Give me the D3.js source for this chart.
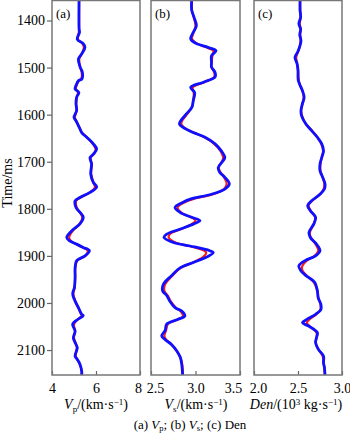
<!DOCTYPE html>
<html>
<head>
<meta charset="utf-8">
<script src="https://cdn.jsdelivr.net/npm/d3@7"></script>
<style>
  body { margin: 0; background: #fff; }
  svg text { font-family: "Liberation Serif", "Times New Roman", serif; fill: #000; }
</style>
</head>
<body>
<svg id="chart"></svg>
<script>
const width = 350;
const height = 439;

// time ticks (ms)
const timeTicks = [1400, 1500, 1600, 1700, 1800, 1900, 2000, 2100];

// (a) Vp, km/s
const vpTime = [1357, 1417, 1425, 1440, 1449, 1457, 1471, 1482, 1499, 1510, 1524, 1528, 1538, 1545, 1553, 1563, 1577, 1591, 1606, 1613, 1627, 1638, 1648, 1662, 1673, 1684, 1691, 1705, 1726, 1744, 1754, 1765, 1776, 1783, 1797, 1818, 1832, 1847, 1861, 1868, 1875, 1882, 1889, 1900, 1910, 1925, 1946, 1967, 1981, 1996, 2010, 2024, 2027, 2034, 2045, 2060, 2074, 2088, 2095, 2113, 2120, 2130, 2145, 2153];
const vpInv = [5.23, 5.23, 5.25, 5.15, 5.42, 5.50, 5.35, 5.20, 5.28, 5.38, 5.36, 5.20, 5.09, 5.05, 5.22, 5.12, 5.09, 5.12, 5.00, 5.09, 5.24, 5.35, 5.58, 5.88, 6.03, 5.88, 5.73, 5.80, 5.76, 5.88, 6.03, 5.73, 5.27, 5.05, 5.09, 5.42, 5.27, 4.89, 4.67, 4.80, 5.12, 5.42, 5.70, 5.50, 5.12, 5.05, 5.05, 5.02, 4.94, 5.05, 5.20, 5.35, 5.42, 5.20, 4.94, 5.05, 4.97, 5.09, 5.15, 5.05, 5.15, 5.27, 5.35, 5.35];
const vpTrue = [5.23, 5.23, 5.22, 5.18, 5.38, 5.45, 5.35, 5.24, 5.28, 5.35, 5.33, 5.22, 5.12, 5.08, 5.18, 5.13, 5.10, 5.12, 5.04, 5.10, 5.24, 5.36, 5.58, 5.85, 5.98, 5.90, 5.76, 5.80, 5.78, 5.88, 5.95, 5.72, 5.30, 5.10, 5.12, 5.38, 5.25, 4.94, 4.78, 4.85, 5.10, 5.38, 5.62, 5.52, 5.15, 5.06, 5.05, 5.03, 4.97, 5.06, 5.20, 5.32, 5.35, 5.20, 5.00, 5.05, 5.00, 5.10, 5.13, 5.08, 5.15, 5.26, 5.35, 5.35];

// (b) Vs, km/s
const vsTime = [1357, 1378, 1393, 1411, 1425, 1439, 1448, 1457, 1464, 1475, 1489, 1499, 1510, 1520, 1531, 1542, 1553, 1570, 1584, 1598, 1613, 1620, 1627, 1638, 1648, 1662, 1677, 1691, 1698, 1712, 1722, 1733, 1747, 1758, 1769, 1779, 1786, 1797, 1808, 1818, 1825, 1832, 1843, 1854, 1861, 1872, 1879, 1889, 1893, 1903, 1914, 1925, 1942, 1960, 1974, 1985, 1996, 2010, 2017, 2028, 2035, 2045, 2058, 2070, 2078, 2088, 2102, 2116, 2130, 2153];
const vsInv = [2.957, 2.957, 2.983, 3.01, 2.975, 2.946, 3.00, 3.14, 3.23, 3.18, 3.18, 3.18, 3.22, 3.22, 3.09, 2.946, 2.99, 2.975, 2.96, 2.90, 2.834, 2.82, 2.86, 2.975, 3.107, 3.22, 3.29, 3.33, 3.31, 3.256, 3.27, 3.33, 3.38, 3.33, 3.18, 2.95, 2.86, 2.77, 2.83, 2.957, 3.05, 2.98, 2.83, 2.676, 2.646, 2.76, 2.94, 3.16, 3.20, 3.12, 2.975, 2.83, 2.73, 2.64, 2.63, 2.68, 2.71, 2.77, 2.845, 2.88, 2.80, 2.676, 2.66, 2.62, 2.66, 2.73, 2.79, 2.83, 2.845, 2.855];
const vsTrue = [2.96, 2.96, 2.98, 3.00, 2.98, 2.96, 3.01, 3.12, 3.20, 3.19, 3.18, 3.18, 3.21, 3.21, 3.10, 2.97, 2.98, 2.975, 2.96, 2.91, 2.85, 2.84, 2.87, 2.98, 3.10, 3.21, 3.28, 3.31, 3.30, 3.26, 3.28, 3.32, 3.35, 3.32, 3.20, 2.98, 2.88, 2.80, 2.84, 2.95, 3.00, 2.96, 2.84, 2.71, 2.70, 2.78, 2.93, 3.10, 3.12, 3.08, 2.97, 2.84, 2.74, 2.66, 2.65, 2.69, 2.72, 2.78, 2.83, 2.86, 2.80, 2.69, 2.67, 2.65, 2.67, 2.73, 2.79, 2.83, 2.85, 2.86];

// (c) Den
const denTime = [1357, 1378, 1393, 1407, 1418, 1430, 1443, 1455, 1467, 1478, 1492, 1506, 1520, 1528, 1536, 1549, 1563, 1577, 1591, 1602, 1620, 1634, 1648, 1662, 1677, 1691, 1705, 1719, 1733, 1747, 1758, 1769, 1783, 1793, 1804, 1818, 1832, 1850, 1861, 1875, 1889, 1900, 1910, 1921, 1931, 1942, 1956, 1974, 1989, 2003, 2014, 2024, 2035, 2042, 2049, 2063, 2074, 2084, 2098, 2113, 2127, 2137, 2153];
const denInv = [2.523, 2.523, 2.53, 2.51, 2.53, 2.52, 2.534, 2.52, 2.496, 2.466, 2.49, 2.50, 2.50, 2.504, 2.52, 2.55, 2.57, 2.55, 2.534, 2.54, 2.59, 2.655, 2.72, 2.77, 2.79, 2.77, 2.75, 2.75, 2.78, 2.807, 2.80, 2.75, 2.655, 2.61, 2.64, 2.70, 2.68, 2.625, 2.64, 2.71, 2.75, 2.70, 2.58, 2.51, 2.53, 2.59, 2.69, 2.72, 2.73, 2.76, 2.76, 2.70, 2.60, 2.55, 2.62, 2.72, 2.71, 2.70, 2.73, 2.79, 2.79, 2.80, 2.807];
const denTrue = [2.525, 2.525, 2.53, 2.52, 2.53, 2.525, 2.53, 2.52, 2.50, 2.48, 2.49, 2.50, 2.505, 2.51, 2.52, 2.55, 2.565, 2.55, 2.535, 2.545, 2.59, 2.66, 2.72, 2.765, 2.785, 2.77, 2.755, 2.755, 2.78, 2.80, 2.79, 2.75, 2.66, 2.62, 2.645, 2.695, 2.68, 2.635, 2.645, 2.70, 2.73, 2.69, 2.60, 2.55, 2.55, 2.60, 2.68, 2.72, 2.73, 2.755, 2.755, 2.71, 2.63, 2.60, 2.63, 2.71, 2.71, 2.70, 2.73, 2.78, 2.79, 2.80, 2.805];

const panels = [
    { key: "a", time: vpTime, inv: vpInv, truth: vpTrue, domain: [4, 8], ticks: [4, 6, 8], fmt: d3.format("d"), x0: 52, x1: 140, nudge: [0, 0, -2] },
    { key: "b", time: vsTime, inv: vsInv, truth: vsTrue, domain: [2.5, 3.5], ticks: [2.5, 3.0, 3.5], fmt: d3.format(".1f"), x0: 151, x1: 240, nudge: [4, 0, -7] },
    { key: "c", time: denTime, inv: denInv, truth: denTrue, domain: [2.0, 3.0], ticks: [2.0, 2.5, 3.0], fmt: d3.format(".1f"), x0: 254, x1: 342, nudge: [4, 0, 0] }
];

const plotTop = 0.5, plotBottom = 375;

const svg = d3.select("#chart")
    .attr("width", width)
    .attr("height", height);

const y = d3.scaleLinear()
    .domain([1357.5, 2153])
    .range([plotTop, plotBottom]);

panels.forEach(p => {
    const x = d3.scaleLinear().domain(p.domain).range([p.x0, p.x1]);
    const g = svg.append("g");

    const clipId = "clip-" + p.key;
    g.append("clipPath").attr("id", clipId)
        .append("rect")
        .attr("x", p.x0).attr("y", plotTop)
        .attr("width", p.x1 - p.x0).attr("height", plotBottom - plotTop);

    const line = d3.line()
        .x(d => x(d[1]))
        .y(d => y(d[0]))
        .curve(d3.curveCatmullRom.alpha(0.5));

    const curves = g.append("g").attr("clip-path", `url(#${clipId})`);

    curves.append("path")
        .datum(p.time.map((t, i) => [t, p.truth[i]]))
        .attr("fill", "none")
        .attr("stroke", "#ff1a1a")
        .attr("stroke-width", 2.2)
        .attr("stroke-linejoin", "round")
        .attr("d", line);

    curves.append("path")
        .datum(p.time.map((t, i) => [t, p.inv[i]]))
        .attr("fill", "none")
        .attr("stroke", "#1010ff")
        .attr("stroke-width", 2.8)
        .attr("stroke-linejoin", "round")
        .attr("d", line);

    // x axis, ticks pointing inward
    const xAxis = g.append("g")
        .attr("transform", `translate(0,${plotBottom})`)
        .call(d3.axisBottom(x).tickValues(p.ticks).tickFormat(p.fmt).tickSizeInner(-4).tickSizeOuter(0).tickPadding(8));
    xAxis.select(".domain").remove();
    xAxis.selectAll("line").attr("stroke", "#666").attr("stroke-width", 1.2);
    xAxis.selectAll("text")
        .attr("font-size", 14)
        .attr("font-family", "Liberation Serif")
        .attr("fill", "#000")
        .attr("dx", (d, i) => p.nudge[i]);

    // frame
    g.append("rect")
        .attr("x", p.x0).attr("y", plotTop)
        .attr("width", p.x1 - p.x0).attr("height", plotBottom - plotTop)
        .attr("fill", "none")
        .attr("stroke", "#777")
        .attr("stroke-width", 1.5);

    g.append("text")
        .attr("x", p.x0 + 4)
        .attr("y", 18)
        .attr("font-size", 13)
        .text("(" + p.key + ")");
});

// time axis on first panel
const yAxis = svg.append("g")
    .attr("transform", "translate(52,0)")
    .call(d3.axisLeft(y).tickValues(timeTicks).tickFormat(d3.format("d")).tickSizeInner(5).tickSizeOuter(0).tickPadding(2));
yAxis.select(".domain").remove();
yAxis.selectAll("line").attr("stroke", "#666").attr("stroke-width", 1.2);
yAxis.selectAll("text").attr("font-size", 14).attr("font-family", "Liberation Serif").attr("fill", "#000");

svg.append("text")
    .attr("transform", "translate(12,183) rotate(-90)")
    .attr("text-anchor", "middle")
    .attr("font-size", 14)
    .text("Time/ms");

// axis titles
function unitTitle(xc, parts) {
    const t = svg.append("text")
        .attr("x", xc).attr("y", 409)
        .attr("text-anchor", "middle")
        .attr("font-size", 14);
    parts.forEach(s => {
        const ts = t.append("tspan").text(s.t);
        if (s.i) ts.attr("font-style", "italic");
        if (s.sub) ts.attr("font-size", 9).attr("dy", 3);
        if (s.sup) ts.attr("font-size", 9).attr("dy", -4);
        if (s.back) ts.attr("dy", s.back);
    });
}

unitTitle(96, [{ t: "V", i: true }, { t: "p", sub: true }, { t: "/(km·s", back: -3 }, { t: "−1", sup: true }, { t: ")", back: 4 }]);
unitTitle(196, [{ t: "V", i: true }, { t: "s", sub: true }, { t: "/(km·s", back: -3 }, { t: "−1", sup: true }, { t: ")", back: 4 }]);
unitTitle(296, [{ t: "Den", i: true }, { t: "/(10" }, { t: "3", sup: true }, { t: " kg·s", back: 4 }, { t: "−1", sup: true }, { t: ")", back: 4 }]);

// caption
const cap = svg.append("text")
    .attr("x", 190).attr("y", 429)
    .attr("text-anchor", "middle")
    .attr("font-size", 13);
cap.append("tspan").text("(a) ");
cap.append("tspan").attr("font-style", "italic").text("V");
cap.append("tspan").attr("font-size", 8.5).attr("dy", 2).text("p");
cap.append("tspan").attr("dy", -2).text("; (b) ");
cap.append("tspan").attr("font-style", "italic").text("V");
cap.append("tspan").attr("font-size", 8.5).attr("dy", 2).text("s");
cap.append("tspan").attr("dy", -2).text("; (c) Den");
</script>
</body>
</html>
